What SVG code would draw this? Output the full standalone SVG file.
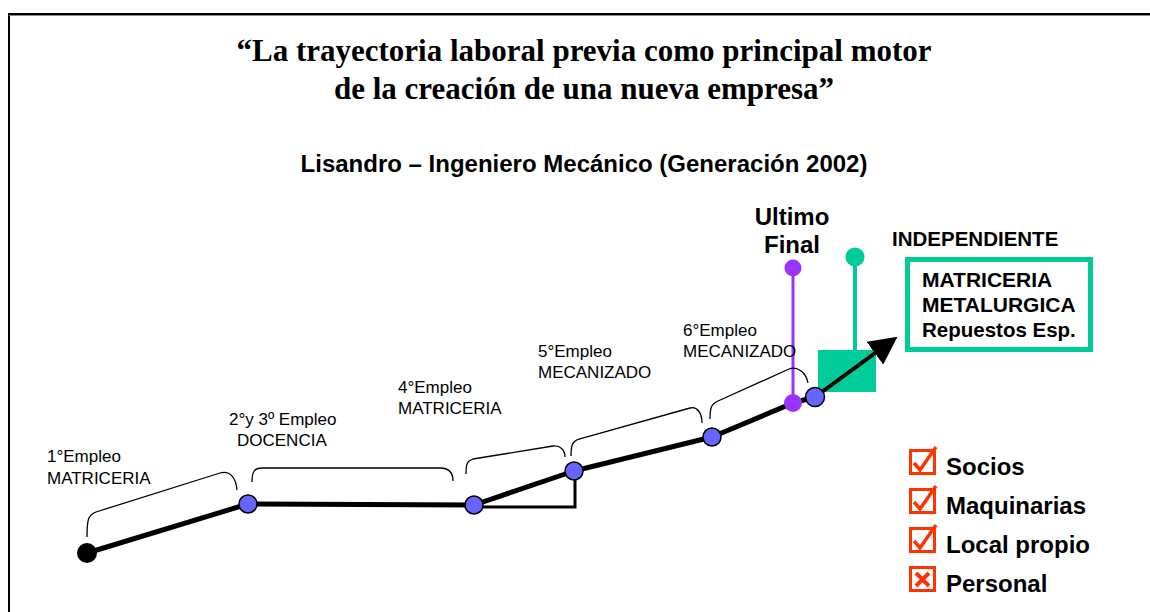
<svg xmlns="http://www.w3.org/2000/svg" width="1150" height="612" viewBox="0 0 1150 612">
<defs>
<style>
.title{font-family:"Liberation Serif","Times New Roman",serif;font-weight:bold;font-size:31px;fill:#000;text-anchor:middle}
.sub{font-family:"Liberation Sans",Arial,sans-serif;font-weight:bold;font-size:24px;fill:#000;text-anchor:middle}
.lbl{font-family:"Liberation Sans",Arial,sans-serif;font-size:17px;fill:#000}
.bold{font-family:"Liberation Sans",Arial,sans-serif;font-weight:bold;fill:#000}
.node{fill:#6666FF;stroke:#000;stroke-width:1.5}
.br{fill:none;stroke:#000;stroke-width:1.3}
.chk{fill:none;stroke:#FF3300;stroke-width:3}
</style>
<marker id="ah" viewBox="0 0 10 10" refX="8" refY="5" markerWidth="7" markerHeight="7" orient="auto" markerUnits="strokeWidth">
<path d="M0,0 L10,5 L0,10 z" fill="#000"/>
</marker>
</defs>
<rect x="0" y="0" width="1150" height="612" fill="#fff"/>
<path d="M9,612 L9,14 L1150,14" fill="none" stroke="#000" stroke-width="2"/>
<path d="M9,15.5 L1150,15.5" stroke="#888" stroke-width="1"/>

<g id="title">
<text class="title" x="584" y="61">“La trayectoria laboral previa como principal motor</text>
<text class="title" x="584" y="99">de la creación de una nueva empresa”</text>
<text class="sub" x="584" y="172">Lisandro – Ingeniero Mecánico (Generación 2002)</text>
</g>

<g id="connectors">
<polyline points="87,553 248,504 474,505 574,471 712,437 793,403 815,397" fill="none" stroke="#000" stroke-width="5" stroke-linejoin="round"/>
<polyline points="474,507 575,507 575,471" fill="none" stroke="#000" stroke-width="3"/>
<line x1="793" y1="268" x2="793" y2="403" stroke="#9933FF" stroke-width="3"/>
<line x1="855" y1="257" x2="855" y2="352" stroke="#00CC99" stroke-width="4"/>
<path class="br" d="M87,537 C87,520 88,515 96,512 L220,473 C230,470 236,478 237,490"/>
<path class="br" d="M252,482 C252,472 254,468 262,468 L440,468 C448,468 453,472 453,481"/>
<path class="br" d="M466,474 C466,464 467,461 473,459 L553,446 C560,445 565,450 565,457"/>
<path class="br" d="M571,456 C571,446 572,441 579,439 L690,408 C697,406 702,413 702,423"/>
<path class="br" d="M710,419 C710,408 711,404 718,401 L789,369 C797,366 806,372 808,383"/>
</g>

<g id="node-start"><circle cx="87" cy="553" r="10" fill="#000"/></g>
<g id="node-2"><circle class="node" cx="248" cy="504" r="9"/></g>
<g id="node-3"><circle class="node" cx="474" cy="505" r="9"/></g>
<g id="node-4"><circle class="node" cx="574" cy="471" r="9"/></g>
<g id="node-5"><circle class="node" cx="712" cy="437" r="9"/></g>

<g id="green-square">
<rect x="818" y="350" width="58" height="42" fill="#00CC99"/>
<circle cx="855" cy="257" r="9.5" fill="#00CC99"/>
</g>
<g id="arrow">
<line x1="815" y1="397" x2="893" y2="340" stroke="#000" stroke-width="4" marker-end="url(#ah)"/>
</g>
<g id="purple">
<circle cx="793" cy="268" r="8.5" fill="#9933FF"/>
<circle cx="793" cy="403" r="9" fill="#9933FF"/>
</g>
<g id="node-6"><circle class="node" cx="815" cy="397" r="9.5"/></g>

<g id="labels">
<text class="lbl" x="47" y="462">1°Empleo</text>
<text class="lbl" x="47" y="484">MATRICERIA</text>
<text class="lbl" x="229" y="425">2°y 3º Empleo</text>
<text class="lbl" x="237" y="446">DOCENCIA</text>
<text class="lbl" x="398" y="393">4°Empleo</text>
<text class="lbl" x="398" y="414">MATRICERIA</text>
<text class="lbl" x="538" y="357">5°Empleo</text>
<text class="lbl" x="538" y="378">MECANIZADO</text>
<text class="lbl" x="683" y="336">6°Empleo</text>
<text class="lbl" x="683" y="357">MECANIZADO</text>
<text class="bold" x="792" y="225" font-size="24" text-anchor="middle">Ultimo</text>
<text class="bold" x="792" y="253" font-size="24" text-anchor="middle">Final</text>
</g>

<g id="independiente">
<text class="bold" x="892" y="246" font-size="20.5">INDEPENDIENTE</text>
<rect x="907.5" y="259.5" width="183" height="90" fill="#fff" stroke="#00CC99" stroke-width="5"/>
<text class="bold" x="922" y="287" font-size="21">MATRICERIA</text>
<text class="bold" x="922" y="312" font-size="21">METALURGICA</text>
<text class="bold" x="922" y="337" font-size="20.5">Repuestos Esp.</text>
</g>

<g id="checklist">
<rect class="chk" x="910.5" y="450.5" width="24" height="23"/>
<path d="M914,463 L920,470 L936,447" fill="none" stroke="#FF3300" stroke-width="3.5"/>
<text class="bold" x="946" y="475" font-size="24">Socios</text>
<rect class="chk" x="910.5" y="489.5" width="24" height="23"/>
<path d="M914,502 L920,509 L936,486" fill="none" stroke="#FF3300" stroke-width="3.5"/>
<text class="bold" x="946" y="514" font-size="24">Maquinarias</text>
<rect class="chk" x="910.5" y="528.5" width="24" height="23"/>
<path d="M914,541 L920,548 L936,525" fill="none" stroke="#FF3300" stroke-width="3.5"/>
<text class="bold" x="946" y="553" font-size="24">Local propio</text>
<rect class="chk" x="910.5" y="567.5" width="24" height="23"/>
<path d="M916,573 L929,586 M929,573 L916,586" fill="none" stroke="#FF3300" stroke-width="4"/>
<text class="bold" x="946" y="592" font-size="24">Personal</text>
</g>
</svg>
